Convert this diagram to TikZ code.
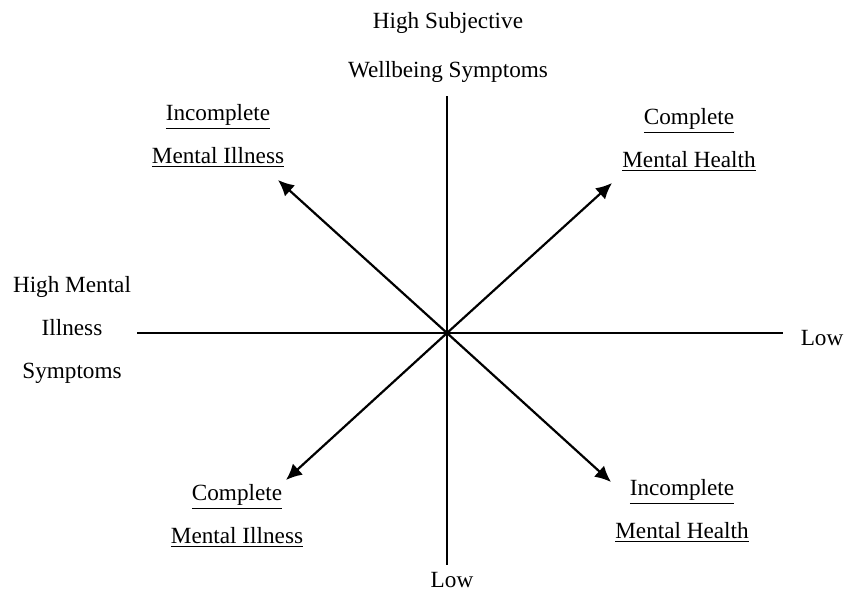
\documentclass[tikz,border=0pt]{standalone}
\usepackage{fontspec}
\setmainfont{Liberation Serif}
\usetikzlibrary{arrows.meta}

\begin{document}
\begin{tikzpicture}[x=0.5pt,y=-0.5pt]

\tikzset{lbl/.style = {align=center,inner sep=0pt,font=\fontsize{11.6}{21.5}\selectfont}}
\tikzset{axis/.style = {line width=1.2pt}}
\tikzset{arr/.style = {line width=1.1pt,-{Latex[length=8pt,width=7.5pt]}}}
\useasboundingbox (0,0) rectangle (845,594);
% labels
\node[lbl] (top) at (448,47) {High Subjective\\[3pt]Wellbeing Symptoms};
\node[lbl] (left) at (72,330) {High Mental\\Illness\\Symptoms};
\node[lbl] (right) at (822,338) {Low};
\node[lbl] (bottom) at (452,580) {Low};
\node[lbl] (nw) at (218,136) {\underline{Incomplete}\\\underline{Mental Illness}};
\node[lbl] (ne) at (689,140) {\underline{Complete}\\\underline{Mental Health}};
\node[lbl] (sw) at (237,516) {\underline{Complete}\\\underline{Mental Illness}};
\node[lbl] (se) at (682,511) {\underline{Incomplete}\\\underline{Mental Health}};
% axis ends
\coordinate (c) at (447,333);
\coordinate (w) at (137,333);
\coordinate (e) at (783,333);
\coordinate (n) at (447,96);
\coordinate (s) at (447,565);
\coordinate (tnw) at (278,180);
\coordinate (tne) at (612,183);
\coordinate (tsw) at (286,480);
\coordinate (tse) at (611,482);
%edges
\draw[axis] (w) -- (e);
\draw[axis] (n) -- (s);
\draw[arr] (c) -- (tnw);
\draw[arr] (c) -- (tne);
\draw[arr] (c) -- (tsw);
\draw[arr] (c) -- (tse);
\end{tikzpicture}
\end{document}
